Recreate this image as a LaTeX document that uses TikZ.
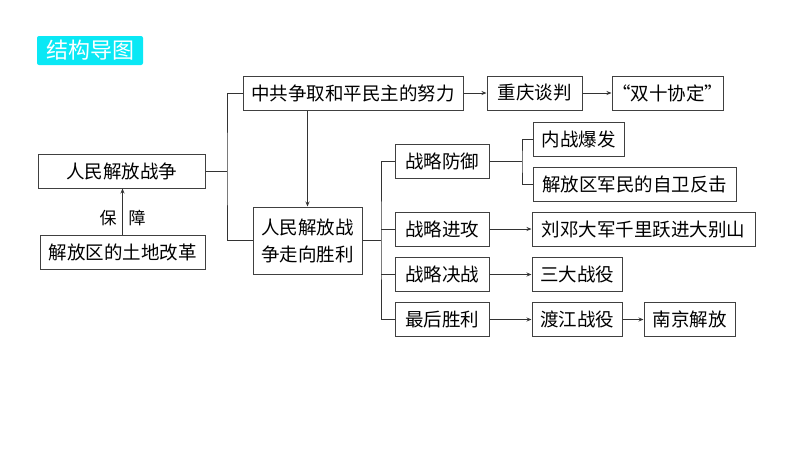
\documentclass[tikz,border=0pt]{standalone}
\usepackage{fontspec}
\setmainfont{Noto Sans CJK SC}
\newfontfamily\cjk{Noto Sans CJK SC}
\usetikzlibrary{arrows.meta}
\definecolor{titlecyan}{RGB}{10,232,245}
\tikzset{
  box/.style={draw=black!75, line width=1pt, text=black, inner sep=0pt,
    minimum height=34pt, font=\cjk\fontsize{18.5}{22}\selectfont},
  link/.style={draw=black!80, line width=0.8pt},
}
\begin{document}
\begin{tikzpicture}[x=1pt, y=-1pt, >={Stealth[length=5pt,width=4pt]}]
                \useasboundingbox (0,0) rectangle (794,448);
                \node[fill=titlecyan, rounded corners=2pt, minimum width=106pt, minimum height=29pt,
                  text=white, font=\cjk\fontsize{22}{24}\selectfont] (title) at (90,50.5) {结构导图};

                \node[box, minimum width=167pt] (war) at (121.5,171) {人民解放战争};
                \node[box, minimum width=165pt] (land) at (122.5,252) {解放区的土地改革};
                \node[box, minimum width=220pt] (peace) at (353,93) {中共争取和平民主的努力};
                \node[box, minimum width=95pt] (talks) at (534.5,93) {重庆谈判};
                \node[box, minimum width=109pt] (accord) at (667.5,93) {“双十协定”};
                \node[box, minimum width=109pt, minimum height=67pt, align=center,
                  font=\cjk\fontsize{18.5}{27}\selectfont] (win) at (307.5,240.5) {人民解放战\\争走向胜利};

                \node[box, minimum width=94pt] (defend) at (442,161.5) {战略防御};
                \node[box, minimum width=94pt] (attack) at (442,229) {战略进攻};
                \node[box, minimum width=94pt] (decisive) at (442,274.5) {战略决战};
                \node[box, minimum width=94pt] (final) at (442,319.5) {最后胜利};

                \node[box, minimum width=91pt] (outbreak) at (578.5,139.5) {内战爆发};
                \node[box, minimum width=203pt] (selfdef) at (634.5,184) {解放区军民的自卫反击};
                \node[box, minimum width=223pt] (dabie) at (643.5,229) {刘邓大军千里跃进大别山};
                \node[box, minimum width=90pt] (three) at (577,274.5) {三大战役};
                \node[box, minimum width=90pt] (yangtze) at (577,319.5) {渡江战役};
                \node[box, minimum width=91pt] (nanjing) at (689.5,319.5) {南京解放};

                \node[font=\cjk\fontsize{17}{20}\selectfont] (bao) at (108,218) {保};
                \node[font=\cjk\fontsize{17}{20}\selectfont] (zhang) at (137,218) {障};

                \coordinate (j1) at (227,171);
                \coordinate (j2) at (381,240.5);
                \coordinate (j3) at (522,161.5);

                % brackets
                \draw[link] (war.east) -- (j1);
                \draw[link] (peace.west) -| (j1) |- (win.west);
                \draw[link] (win.east) -- (j2);
                \draw[link] (defend.west) -| (j2) |- (final.west);
                \draw[link] (attack.west) -- (attack.west -| j2);
                \draw[link] (decisive.west) -- (decisive.west -| j2);
                \draw[link] (defend.east) -- (j3);
                \draw[link] (outbreak.west) -| (j3) |- (selfdef.west);

                % arrows
                \draw[link, ->] (land.north) -- (land.north |- war.south);
                \draw[link, ->] (peace.south -| win.north) -- (win.north);
                \draw[link, ->] (peace) -- (talks);
                \draw[link, ->] (talks) -- (accord);
                \draw[link, ->] (attack) -- (dabie);
                \draw[link, ->] (decisive) -- (three);
                \draw[link, ->] (final) -- (yangtze);
                \draw[link, ->] (yangtze) -- (nanjing);
            \end{tikzpicture}
\end{document}
